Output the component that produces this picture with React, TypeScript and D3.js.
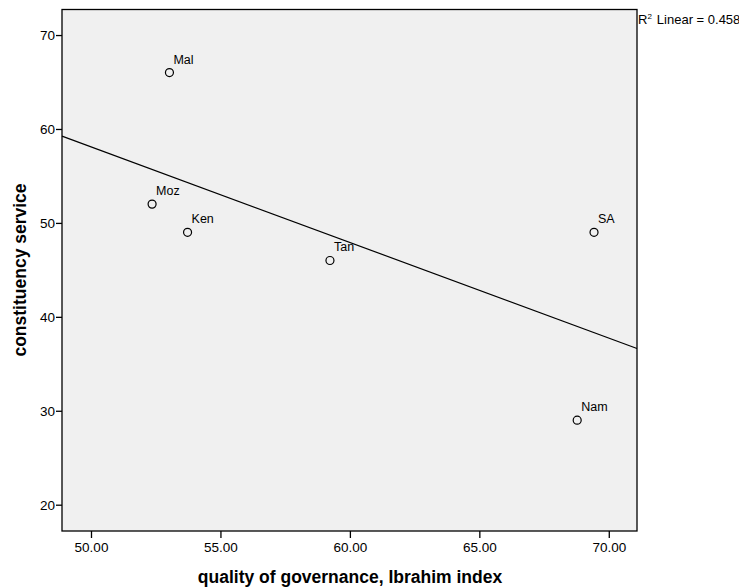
import React, { useEffect, useRef } from "react";
import * as d3 from "d3";

const countries = ["Mal", "Moz", "Ken", "Tan", "SA", "Nam"];
const governance = [53.03, 52.36, 53.73, 59.23, 69.43, 68.78];
const constituency = [66, 52, 49, 46, 49, 29];
const xTicks = [50, 55, 60, 65, 70];
const yTicks = [20, 30, 40, 50, 60, 70];

const App = () => {
  const ref = useRef<SVGSVGElement>(null);

  useEffect(() => {
    if (!ref.current) return;
    const svg = d3.select(ref.current);
    svg.selectAll("*").remove();

    const left = 62, right = 637, top = 9.5, bottom = 531;
    const font = "'Liberation Sans', Arial, sans-serif";

    const x = d3.scaleLinear().domain([48.88, 71.09]).range([left, right]);
    const y = d3.scaleLinear().domain([17.2, 72.72]).range([bottom, top]);

    // plot background + frame
    svg.append("rect")
      .attr("x", left).attr("y", top)
      .attr("width", right - left).attr("height", bottom - top)
      .attr("fill", "#f0f0f0")
      .attr("stroke", "#000").attr("stroke-width", 1.3);

    // axes
    const xAxis = svg.append("g")
      .attr("transform", `translate(0,${bottom})`)
      .call(d3.axisBottom(x).tickValues(xTicks).tickFormat(d3.format(".2f")).tickSizeOuter(0).tickSize(7).tickPadding(4));
    xAxis.select(".domain").remove();

    const yAxis = svg.append("g")
      .attr("transform", `translate(${left},0)`)
      .call(d3.axisLeft(y).tickValues(yTicks).tickFormat(d3.format("d")).tickSizeOuter(0).tickSize(6).tickPadding(1));
    yAxis.select(".domain").remove();

    svg.selectAll(".tick line").attr("stroke", "#000").attr("stroke-width", 1.3);
    svg.selectAll(".tick text")
      .attr("font-family", font).attr("font-size", 13.5).attr("fill", "#000");

    // regression line (least squares)
    const n = governance.length;
    const mx = d3.mean(governance)!;
    const my = d3.mean(constituency)!;
    let sxy = 0, sxx = 0;
    for (let i = 0; i < n; i++) {
      sxy += (governance[i] - mx) * (constituency[i] - my);
      sxx += (governance[i] - mx) ** 2;
    }
    const slope = sxy / sxx;
    const intercept = my - slope * mx;
    const [x0, x1] = x.domain();
    svg.append("line")
      .attr("x1", x(x0)).attr("y1", y(intercept + slope * x0))
      .attr("x2", x(x1)).attr("y2", y(intercept + slope * x1))
      .attr("stroke", "#000").attr("stroke-width", 1.2);

    // points
    const pts = countries.map((c, i) => ({ c, gx: governance[i], cy: constituency[i] }));
    svg.selectAll(".pt")
      .data(pts)
      .enter().append("circle")
      .attr("cx", d => x(d.gx)).attr("cy", d => y(d.cy))
      .attr("r", 4)
      .attr("fill", "none").attr("stroke", "#000").attr("stroke-width", 1.2);

    svg.selectAll(".lbl")
      .data(pts)
      .enter().append("text")
      .attr("x", d => x(d.gx) + 4).attr("y", d => y(d.cy) - 9)
      .attr("font-family", font).attr("font-size", 12.5)
      .text(d => d.c);

    // R² label
    const r2 = svg.append("text")
      .attr("x", right + 1).attr("y", 24)
      .attr("font-family", font).attr("font-size", 13);
    r2.append("tspan").text("R");
    r2.append("tspan").attr("font-size", 8).attr("dy", -5).text("2");
    r2.append("tspan").attr("dy", 5).attr("dx", 5).text(`Linear = 0.458`);

    // axis titles
    svg.append("text")
      .attr("x", 350).attr("y", 583)
      .attr("text-anchor", "middle")
      .attr("font-family", font).attr("font-size", 17.5).attr("font-weight", "bold")
      .text("quality of governance, Ibrahim index");

    svg.append("text")
      .attr("transform", `translate(26,270) rotate(-90)`)
      .attr("text-anchor", "middle")
      .attr("font-family", font).attr("font-size", 17.5).attr("font-weight", "bold")
      .text("constituency service");
  }, []);

  return (
    <svg
      ref={ref}
      width={739}
      height={588}
      style={{ position: "absolute", left: 0, top: 0, background: "#fff" }}
    />
  );
};

export default App;
